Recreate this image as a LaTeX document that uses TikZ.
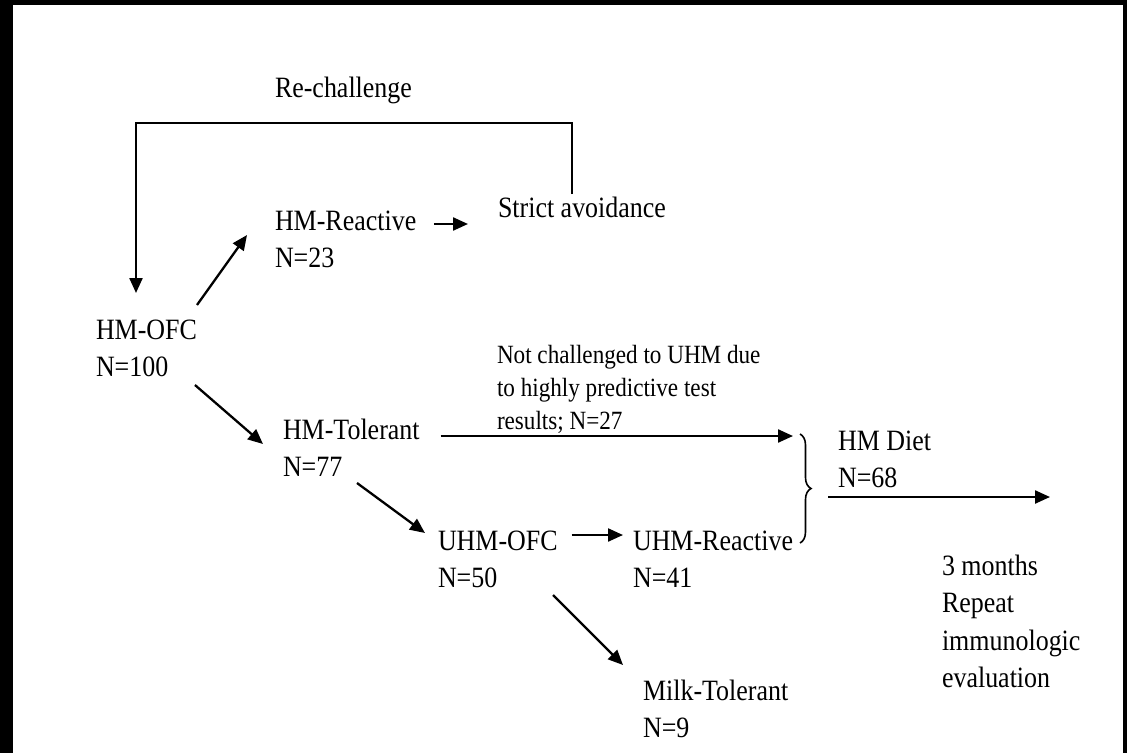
\documentclass[tikz,border=0pt]{standalone}
\usepackage{fontspec}
\setmainfont{Liberation Serif}[FakeStretch=0.88]
\usetikzlibrary{arrows.meta,decorations.pathreplacing}

\begin{document}
\begin{tikzpicture}[x=1pt,y=-1pt,
  lbl/.style={inner sep=0pt,outer sep=0pt,anchor=base west,align=left,
    font=\fontsize{29.5}{37.5}\selectfont},
  note/.style={lbl,font=\fontsize{26.3}{33}\selectfont},
  conn/.style={line width=2.3pt,-{Triangle[length=15pt,width=13pt]}},
  bracestyle/.style={line width=1.6pt,decorate,decoration={brace,amplitude=11pt}}]

% frame: white sheet with black strips on top, left and right
\useasboundingbox (0,0) rectangle (1127,753);
\fill[white] (0,0) rectangle (1127,753);
\fill[black] (0,0) rectangle (1127,5);
\fill[black] (0,0) rectangle (13,753);
\fill[black] (1123,0) rectangle (1127,753);

% labels (base anchor sits on the last line)
\node[lbl] (rech)    at (275,97)    {Re-challenge};
\node[lbl] (hmofc)   at (96,376.5)  {HM-OFC\\N=100};
\node[lbl] (hmreac)  at (275,267.5) {HM-Reactive\\N=23};
\node[lbl] (strict)  at (498,217)   {Strict avoidance};
\node[lbl] (hmtol)   at (283,476.5) {HM-Tolerant\\N=77};
\node[note] (notch)  at (497,429)   {Not challenged to UHM due\\to highly predictive test\\results; N=27};
\node[lbl] (uhmofc)  at (438,587.5) {UHM-OFC\\N=50};
\node[lbl] (uhmreac) at (633,587.5) {UHM-Reactive\\N=41};
\node[lbl] (milk)    at (643,737.5) {Milk-Tolerant\\N=9};
\node[lbl] (hmdiet)  at (838,487.5) {HM Diet\\N=68};
\node[lbl] (months)  at (942,687.5) {3 months\\Repeat\\immunologic\\evaluation};

% brace ends and free arrow end
\coordinate (bt) at (800,434);
\coordinate (bb) at (800,543);
\coordinate (dietend) at (1050,497);

% re-challenge loop
\draw[conn] ([shift={(74,-23)}]strict.base west) -- ++(0,-71)
  -| ([shift={(40,-83.5)}]hmofc.base west);

% connectors
\draw[conn] ([shift={(0,-71.5)}]hmofc.base east) -- ([shift={(-28,-32.5)}]hmreac.base west);
\draw[conn] ([shift={(17.5,-43.5)}]hmreac.base east) -- ([shift={(-30,7)}]strict.base west);
\draw[conn] ([shift={(-2,8.5)}]hmofc.base east) -- ([shift={(-20,-32.5)}]hmtol.base west);
\draw[conn] ([shift={(21,-40.5)}]hmtol.base east) -- ([shift={(-7,2)}]bt);
\draw[conn] ([shift={(74,6.5)}]hmtol.base west) -- ([shift={(-13,-54.5)}]uhmofc.base west);
\draw[conn] ([shift={(14,-52.5)}]uhmofc.base east) -- ([shift={(-10,-52.5)}]uhmreac.base west);
\draw[conn] ([shift={(115,7.5)}]uhmofc.base west) -- ([shift={(-20,-72.5)}]milk.base west);
\draw[conn] ([shift={(-10,9.5)}]hmdiet.base west) -- (dietend);

% brace joining the two HM-diet groups
\draw[bracestyle] (bt) -- (bb);

\end{tikzpicture}
\end{document}
